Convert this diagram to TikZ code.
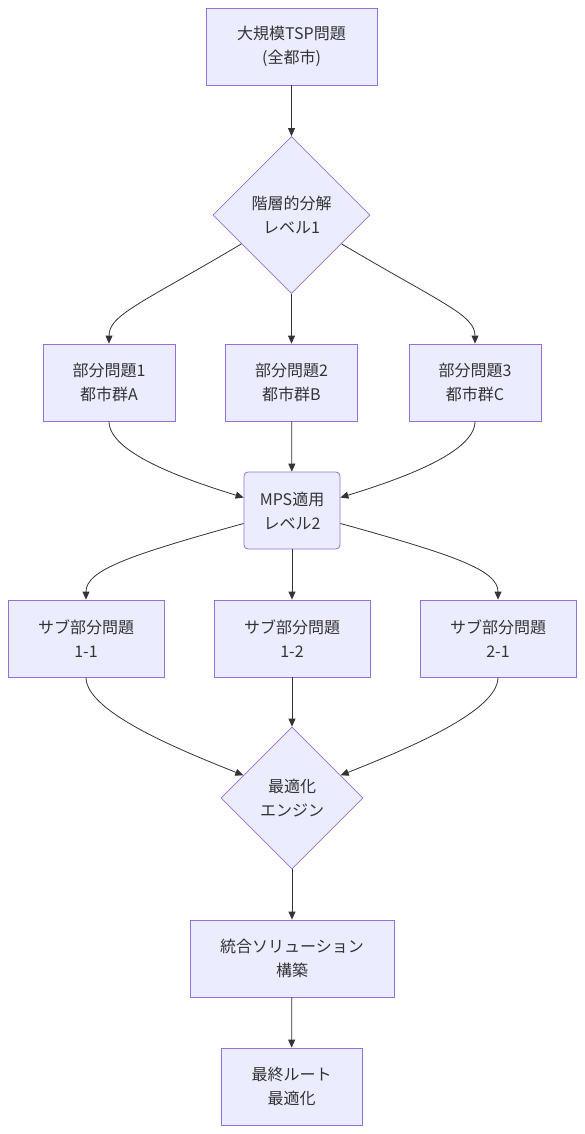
\documentclass[tikz,border=0pt]{standalone}
\usepackage{fontspec}
\setmainfont{Noto Sans CJK JP}
\usepackage{tikz}
\usetikzlibrary{arrows.meta,shapes.geometric}
\definecolor{boxfill}{HTML}{ECECFF}
\definecolor{boxline}{HTML}{9370DB}
\definecolor{ink}{HTML}{333333}

\begin{document}
\begin{tikzpicture}[x=1pt,y=-1pt,
    proc/.style={draw=boxline,fill=boxfill,text=ink,align=center,inner sep=0pt,
        minimum height=77pt,line width=0.8pt,font=\fontsize{16}{24}\selectfont},
    dec/.style={diamond,aspect=1,draw=boxline,fill=boxfill,text=ink,align=center,
        inner sep=0pt,line width=0.8pt,font=\fontsize{16}{24}\selectfont},
    link/.style={-{Triangle[length=8pt,width=7pt]},draw=ink,line width=0.8pt}]
            \useasboundingbox (0,0) rectangle (584,1134);
            % top of the tree
            \node[proc,minimum width=171pt] (tsp) at (291.5,46.5) {大規模TSP問題\\(全都市)};
            \node[dec,minimum size=157pt] (split) at (291.5,215) {階層的分解\\レベル1};
            \node[proc,minimum width=132pt] (partA) at (109,382.5) {部分問題1\\都市群A};
            \node[proc,minimum width=132pt] (partB) at (291.5,382.5) {部分問題2\\都市群B};
            \node[proc,minimum width=132pt] (partC) at (475,382.5) {部分問題3\\都市群C};
            \node[proc,rounded corners=4pt,minimum width=96pt] (mps) at (292,510.5) {MPS適用\\レベル2};
            \node[proc,minimum width=156pt] (subA) at (86,638.5) {サブ部分問題\\1-1};
            \node[proc,minimum width=156pt] (subB) at (292,638.5) {サブ部分問題\\1-2};
            \node[proc,minimum width=156pt] (subC) at (498,638.5) {サブ部分問題\\2-1};
            \node[dec,minimum size=142pt] (engine) at (292,798) {最適化\\エンジン};
            \node[proc,minimum width=204pt] (merge) at (292,958.5) {統合ソリューション\\構築};
            \node[proc,minimum width=141pt] (final) at (291.5,1086.5) {最終ルート\\最適化};
            % connectors
            \draw[link] (tsp) -- (split);
            \draw[link] (split.210) .. controls (140,304) and (109,315) .. (partA.north);
            \draw[link] (split) -- (partB);
            \draw[link] (split.330) .. controls (443,304) and (475,315) .. (partC.north);
            \draw[link] (partA.south) .. controls (109,452) and (180,478) .. (mps.165);
            \draw[link] (partB) -- (mps);
            \draw[link] (partC.south) .. controls (475,452) and (404,478) .. (mps.15);
            \draw[link] (mps.195) .. controls (130,555) and (86,570) .. (subA.north);
            \draw[link] (mps) -- (subB);
            \draw[link] (mps.345) .. controls (454,555) and (498,570) .. (subC.north);
            \draw[link] (subA.south) .. controls (86,712) and (180,750) .. (engine.155);
            \draw[link] (subB) -- (engine);
            \draw[link] (subC.south) .. controls (498,712) and (404,750) .. (engine.25);
            \draw[link] (engine) -- (merge);
            \draw[link] (merge) -- (final);
        \end{tikzpicture}
\end{document}
